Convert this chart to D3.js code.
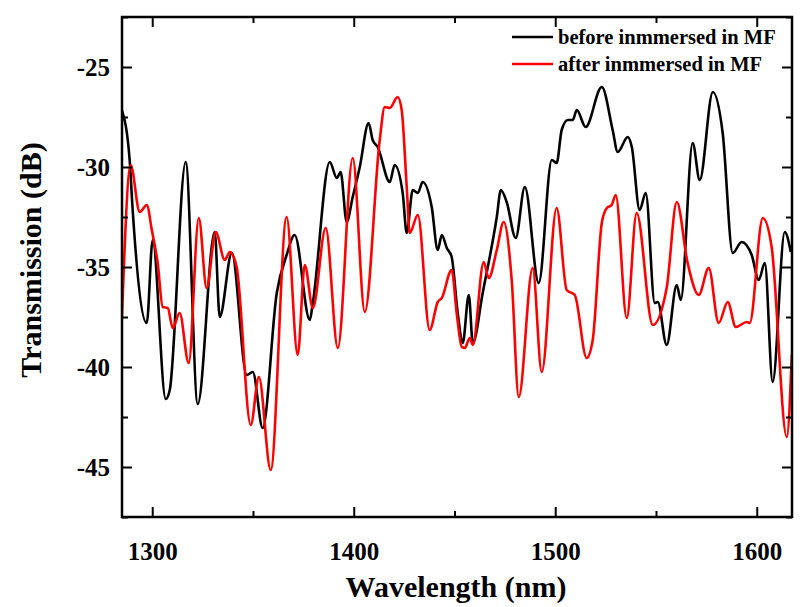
<!DOCTYPE html>
<html>
<head>
<meta charset="utf-8">
<script src="https://cdn.jsdelivr.net/npm/d3@7"></script>
<style>
  body { margin: 0; background: #fff; }
  svg text { font-family: "Liberation Serif", "Times New Roman", serif; font-weight: bold; }
</style>
</head>
<body>
<svg id="chart" width="803" height="607"></svg>
<script>
// wavelength (nm) / transmission (dB)
var beforeNm = [1284.9, 1288.8, 1290.3, 1297.3, 1300.2, 1306.7, 1308.7, 1316.6, 1322.6, 1331.0,
  1333.5, 1339.5, 1346.9, 1349.9, 1354.8, 1361.8, 1366.7, 1370.7, 1378.2, 1379.7,
  1388.1, 1391.6, 1393.5, 1396.5, 1399.5, 1403.0, 1407.4, 1409.4, 1411.9, 1417.9,
  1420.3, 1424.3, 1426.3, 1429.3, 1431.8, 1434.2, 1438.7, 1441.7, 1443.7, 1446.2,
  1448.6, 1451.6, 1454.1, 1457.1, 1459.1, 1464.0, 1471.0, 1473.0, 1475.9, 1480.4,
  1484.9, 1491.8, 1498.3, 1500.7, 1503.2, 1506.2, 1508.7, 1510.7, 1515.1, 1523.1,
  1528.5, 1531.0, 1536.0, 1538.0, 1541.9, 1544.9, 1549.4, 1550.9, 1555.3, 1560.3,
  1562.3, 1568.2, 1571.7, 1578.2, 1583.1, 1588.1, 1592.5, 1597.5, 1601.0, 1604.0,
  1607.9, 1613.9, 1616.9];
var beforeDb = [-27.15, -29.65, -32.15, -37.8, -33.65, -41.6, -41.15, -29.75, -41.85, -33.25,
  -37.5, -34.3, -40.4, -40.25, -43.05, -36.3, -34.4, -33.4, -37.65, -36.8,
  -29.75, -30.55, -30.25, -32.75, -31.5, -30.0, -27.8, -28.65, -29.0, -30.75,
  -29.9, -31.3, -33.3, -31.15, -31.3, -30.75, -32.0, -34.15, -33.4, -34.05,
  -34.5, -37.3, -38.8, -36.4, -38.8, -36.3, -32.5, -31.15, -31.75, -33.55,
  -31.0, -35.8, -29.65, -29.8, -28.15, -27.65, -27.65, -27.15, -28.0, -26.0,
  -28.15, -29.25, -28.5, -29.0, -32.15, -31.3, -36.8, -36.75, -38.9, -35.9,
  -36.65, -28.8, -30.65, -26.25, -28.3, -34.3, -33.75, -34.4, -35.65, -34.8,
  -40.75, -33.25, -34.25];

var afterNm = [1284.9, 1289.3, 1293.8, 1297.3, 1299.8, 1302.7, 1305.2, 1307.7, 1310.2, 1313.6,
  1318.1, 1323.1, 1327.0, 1331.5, 1336.0, 1338.5, 1341.9, 1348.9, 1352.9, 1358.8,
  1366.7, 1372.2, 1375.7, 1379.7, 1386.1, 1392.1, 1399.5, 1405.5, 1412.9, 1415.4,
  1417.9, 1421.8, 1423.8, 1426.3, 1427.8, 1431.8, 1437.7, 1441.7, 1443.7, 1448.6,
  1451.1, 1453.6, 1455.1, 1457.6, 1459.1, 1464.5, 1467.0, 1471.0, 1474.4, 1478.4,
  1481.9, 1488.8, 1493.3, 1500.7, 1505.7, 1509.7, 1515.6, 1518.6, 1523.1, 1525.6,
  1528.0, 1530.0, 1535.5, 1540.4, 1548.4, 1555.3, 1560.3, 1565.7, 1571.2, 1576.2,
  1581.1, 1585.6, 1589.6, 1595.1, 1596.5, 1603.0, 1607.4, 1614.9, 1617.4];
var afterDb = [-37.65, -29.9, -32.25, -31.9, -33.15, -34.8, -37.0, -37.05, -38.05, -37.3,
  -39.8, -32.55, -36.05, -33.25, -34.65, -34.25, -35.0, -42.9, -40.5, -45.15,
  -32.5, -39.4, -34.9, -37.05, -33.05, -39.05, -29.55, -37.25, -28.65, -27.0,
  -27.05, -26.5, -27.15, -31.0, -33.3, -32.4, -38.15, -36.75, -36.55, -35.15,
  -37.3, -39.0, -39.05, -38.55, -38.9, -34.75, -35.55, -34.15, -32.75, -35.65,
  -41.5, -35.05, -40.25, -32.05, -36.15, -36.4, -39.55, -38.65, -32.8, -32.05,
  -31.9, -31.4, -37.55, -32.3, -37.9, -36.05, -31.75, -34.8, -36.4, -35.05,
  -37.8, -36.75, -38.0, -37.75, -37.8, -32.55, -34.0, -43.5, -39.4];

var xTicks = [1300, 1400, 1500, 1600];
var xMinor = [1350, 1450, 1550];
var yTicks = [-45, -40, -35, -30, -25];
var yMinor = [-47.5, -42.5, -37.5, -32.5, -27.5, -22.5];

var seriesNames = ["before inmmersed in MF", "after inmmersed in MF"];
var seriesColors = ["#000000", "#ff0000"];

var margin = { left: 122, right: 11, top: 17, bottom: 90 };
var W = 803, H = 607;
var iw = W - margin.left - margin.right, ih = H - margin.top - margin.bottom;

var svg = d3.select("#chart");
var g = svg.append("g").attr("transform", "translate(" + margin.left + "," + margin.top + ")");

var x = d3.scaleLinear().domain([1285, 1617.5]).range([0, iw]);
var y = d3.scaleLinear().domain([-47.5, -22.5]).range([ih, 0]);

g.append("clipPath").attr("id", "clip")
  .append("rect").attr("width", iw).attr("height", ih);

var line = d3.line()
  .x(function(d) { return x(d[0]); })
  .y(function(d) { return y(d[1]); })
  .curve(d3.curveMonotoneX);

var series = [d3.zip(beforeNm, beforeDb), d3.zip(afterNm, afterDb)];

// black first, red drawn on top
g.selectAll(".curve")
  .data(series)
  .join("path")
  .attr("class", "curve")
  .attr("clip-path", "url(#clip)")
  .attr("d", line)
  .attr("fill", "none")
  .attr("stroke", function(d, i) { return seriesColors[i]; })
  .attr("stroke-width", 2.6)
  .attr("stroke-linejoin", "round");

// axes: ticks inward, mirrored on top and right
function axisStyle(sel) {
  sel.select(".domain").remove();
  sel.selectAll("line").attr("stroke", "#000").attr("stroke-width", 2);
}
var plain = function(d) { return String(d); }; // hyphen, not unicode minus

var bottom = g.append("g").attr("transform", "translate(0," + ih + ")")
  .call(d3.axisBottom(x).tickValues(xTicks).tickSize(-10).tickPadding(20).tickFormat(plain));
bottom.call(axisStyle);
bottom.selectAll("text").attr("font-size", 25).attr("fill", "#000").attr("dy", "0.9em");
g.append("g").attr("transform", "translate(0," + ih + ")")
  .call(d3.axisBottom(x).tickValues(xMinor).tickSize(-6).tickFormat("")).call(axisStyle);

g.append("g")
  .call(d3.axisTop(x).tickValues(xTicks).tickSize(-10).tickFormat("")).call(axisStyle);
g.append("g").call(d3.axisTop(x).tickValues(xMinor).tickSize(-6).tickFormat("")).call(axisStyle);

var left = g.append("g")
  .call(d3.axisLeft(y).tickValues(yTicks).tickSize(-10).tickPadding(12).tickFormat(plain));
left.call(axisStyle);
left.selectAll("text").attr("font-size", 25).attr("fill", "#000").attr("dy", "0.35em");
g.append("g").call(d3.axisLeft(y).tickValues(yMinor).tickSize(-6).tickFormat("")).call(axisStyle);

g.append("g").attr("transform", "translate(" + iw + ",0)")
  .call(d3.axisRight(y).tickValues(yTicks).tickSize(-10).tickFormat("")).call(axisStyle);
g.append("g").attr("transform", "translate(" + iw + ",0)")
  .call(d3.axisRight(y).tickValues(yMinor).tickSize(-6).tickFormat("")).call(axisStyle);

g.append("rect")
  .attr("width", iw).attr("height", ih)
  .attr("fill", "none").attr("stroke", "#000").attr("stroke-width", 2.5);

// axis titles
svg.append("text")
  .attr("x", 456).attr("y", 597)
  .attr("text-anchor", "middle").attr("font-size", 30)
  .text("Wavelength (nm)");

svg.append("text")
  .attr("transform", "translate(41,260) rotate(-90)")
  .attr("text-anchor", "middle").attr("font-size", 30)
  .text("Transmission (dB)");

// legend
var legend = svg.append("g").attr("transform", "translate(512,37)");
var item = legend.selectAll("g").data(seriesNames).join("g")
  .attr("transform", function(d, i) { return "translate(0," + i * 27 + ")"; });
item.append("line")
  .attr("x1", 0).attr("x2", 41)
  .attr("stroke", function(d, i) { return seriesColors[i]; })
  .attr("stroke-width", 2.6);
item.append("text")
  .attr("x", 46).attr("y", 7)
  .attr("font-size", 20.5)
  .text(function(d) { return d; });
</script>
</body>
</html>
